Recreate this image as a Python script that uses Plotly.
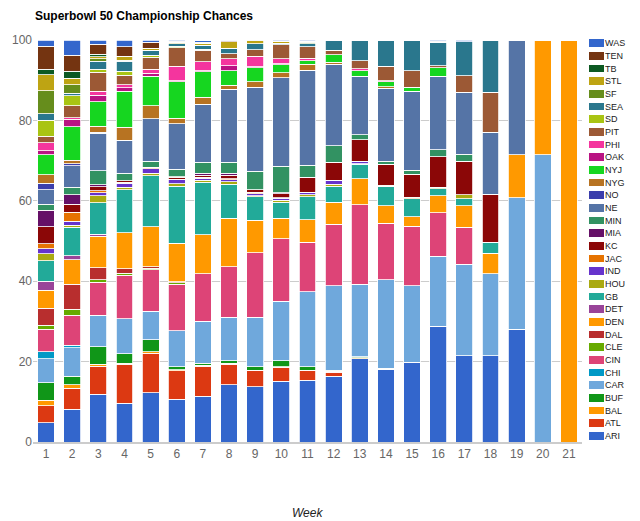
import plotly.graph_objects as go

weeks = [str(w) for w in range(1, 22)]

teams = ['ARI', 'ATL', 'BAL', 'BUF', 'CAR', 'CHI', 'CIN', 'CLE', 'DAL', 'DEN', 'DET',
         'GB', 'HOU', 'IND', 'JAC', 'KC', 'MIA', 'MIN', 'NE', 'NO', 'NYG', 'NYJ',
         'OAK', 'PHI', 'PIT', 'SD', 'SEA', 'SF', 'STL', 'TB', 'TEN', 'WAS']

colors = ['#3366cc', '#dc3912', '#ff9900', '#109618', '#6fa8dc', '#0099c6', '#dd4477',
          '#66aa00', '#b82e2e', '#ff9900', '#994499', '#22aa99', '#aaaa11', '#6633cc',
          '#e67300', '#8b0707', '#651067', '#329262', '#5574a6', '#3b3eac', '#b77322',
          '#16d620', '#b91383', '#f4359e', '#9c5935', '#a9c413', '#2a778d', '#668d1c',
          '#bea413', '#0c5922', '#743411', '#3366cc']

# chance (%) per week, weeks 1..21
ARI = [4.8, 8.1, 11.9, 9.6, 12.3, 10.6, 11.4, 14.3, 13.8, 15.1, 15.4, 16.4, 20.7, 18.1, 19.9, 28.8, 21.4, 21.4, 28.0, 0, 0]
ATL = [4.2, 5.3, 7.0, 9.7, 9.8, 7.1, 7.5, 5.1, 3.9, 3.5, 2.3, 1.0, 0, 0, 0, 0, 0, 0, 0, 0, 0]
BAL = [1.4, 0.9, 0.4, 0.3, 0.3, 0.3, 0.2, 0.2, 0.2, 0.1, 0.2, 0.2, 0.3, 0.1, 0, 0, 0, 0, 0, 0, 0]
BUF = [4.4, 2.0, 4.4, 2.3, 3.0, 0.7, 0.5, 0.6, 0.8, 1.5, 0.8, 0.3, 0.2, 0.2, 0, 0, 0, 0, 0, 0, 0]
CAR = [5.9, 7.1, 7.8, 8.8, 7.1, 9.0, 10.4, 10.8, 12.3, 14.8, 18.7, 21.0, 18.1, 21.9, 19.0, 17.4, 22.8, 20.5, 32.8, 71.4, 0]
CHI = [1.7, 0.7, 0, 0, 0, 0, 0, 0, 0, 0, 0, 0, 0, 0, 0, 0, 0, 0, 0, 0, 0]
CIN = [5.6, 7.4, 8.3, 10.8, 10.3, 11.6, 11.9, 12.6, 16.1, 15.5, 12.3, 15.3, 19.7, 14.1, 14.8, 10.8, 9.2, 0, 0, 0, 0]
CLE = [1.0, 1.5, 0.5, 0.5, 0.4, 0.3, 0, 0, 0, 0, 0, 0, 0, 0, 0, 0, 0, 0, 0, 0, 0]
DAL = [4.3, 6.2, 3.0, 1.1, 0.4, 0.3, 0, 0, 0, 0, 0, 0, 0, 0, 0, 0, 0, 0, 0, 0, 0]
DEN = [4.5, 6.1, 7.9, 9.0, 10.0, 9.5, 9.6, 12.1, 8.1, 5.2, 5.6, 5.5, 6.5, 4.4, 2.3, 4.3, 5.4, 5.0, 10.6, 28.6, 100]
DET = [2.2, 1.0, 0.5, 0, 0, 0, 0, 0, 0, 0, 0, 0, 0, 0, 0, 0, 0, 0, 0, 0, 0]
GB = [5.1, 7.1, 7.8, 10.6, 12.6, 14.2, 13.1, 8.4, 5.8, 4.0, 5.7, 3.9, 3.6, 4.8, 4.5, 1.7, 1.7, 2.8, 0, 0, 0]
HOU = [1.7, 0.5, 1.7, 0.7, 0.6, 0.6, 0.5, 0.6, 0.3, 0.4, 0.5, 0.5, 0.1, 0, 0, 0.4, 1.0, 0, 0, 0, 0]
IND = [1.3, 1.0, 0.8, 1.0, 1.2, 1.0, 0.5, 0.5, 0.5, 0.5, 0.6, 1.0, 0.6, 0, 0, 0, 0, 0, 0, 0, 0]
JAC = [1.2, 2.2, 0.5, 0.2, 0.3, 0.2, 0.3, 0.3, 0.3, 0.2, 0, 0, 0, 0.3, 0.4, 0, 0, 0, 0, 0, 0]
KC = [4.3, 2.0, 1.0, 0.4, 0, 0.4, 0.4, 0.8, 0.7, 1.0, 3.8, 4.5, 5.4, 5.2, 5.7, 7.5, 8.4, 11.9, 0, 0, 0]
MIA = [4.1, 2.4, 0.5, 0, 0, 0.2, 0.6, 0.6, 0, 0.2, 0, 0, 0, 0, 0, 0, 0, 0, 0, 0, 0]
MIN = [1.4, 1.9, 3.5, 1.8, 1.5, 1.8, 2.7, 2.7, 4.5, 6.6, 2.9, 4.1, 1.2, 0.8, 1.0, 1.8, 1.7, 0, 0, 0, 0]
NE = [3.6, 5.3, 9.3, 8.3, 10.6, 11.4, 14.4, 18.2, 20.9, 22.0, 23.7, 20.3, 14.6, 18.1, 19.7, 18.3, 15.4, 15.5, 28.6, 0, 0]
NO = [1.7, 0.5, 0.3, 0, 0, 0, 0, 0, 0, 0, 0, 0, 0, 0, 0, 0, 0, 0, 0, 0, 0]
NYG = [2.1, 0.9, 1.5, 3.2, 3.3, 1.3, 1.7, 1.0, 1.4, 1.2, 1.5, 0.5, 0, 0.4, 0, 0, 0, 0, 0, 0, 0]
NYJ = [5.0, 8.3, 6.0, 8.9, 7.3, 9.1, 6.4, 3.5, 3.5, 2.0, 0.8, 1.8, 1.3, 1.2, 1.0, 2.1, 0, 0, 0, 0, 0]
OAK = [1.0, 1.9, 1.6, 0.9, 0.7, 0.3, 0.3, 1.3, 0.3, 0.3, 0, 0, 0, 0, 0, 0, 0, 0, 0, 0, 0]
PHI = [2.0, 0.3, 1.0, 0.8, 1.0, 3.6, 2.2, 1.7, 2.5, 1.2, 0.6, 0, 0.5, 0.3, 0, 0, 0, 0, 0, 0, 0]
PIT = [1.6, 3.1, 4.8, 2.3, 3.0, 4.6, 2.8, 1.3, 1.7, 3.5, 2.9, 1.1, 2.0, 3.6, 4.0, 0.5, 4.1, 9.9, 0, 0, 0]
SD = [3.9, 2.4, 0.7, 1.0, 0.5, 0.3, 0.3, 0, 0, 0, 0, 0, 0, 0, 0, 0, 0, 0, 0, 0, 0]
SEA = [1.6, 0.6, 2.0, 2.5, 1.3, 0.7, 1.0, 1.3, 1.5, 0.4, 0.8, 2.4, 5.1, 6.4, 7.6, 5.8, 8.5, 13.0, 0, 0, 0]
SF = [5.8, 2.2, 0.6, 0.3, 0, 0, 0, 0, 0, 0, 0.3, 0.2, 0, 0, 0, 0, 0, 0, 0, 0, 0]
STL = [4.0, 1.6, 0.5, 1.0, 0.5, 0.3, 0.5, 1.7, 0.7, 0.5, 0.3, 0, 0, 0, 0, 0, 0, 0, 0, 0, 0]
TB = [1.3, 1.7, 0.7, 0, 0, 0, 0, 0, 0, 0, 0, 0, 0, 0, 0, 0, 0, 0, 0, 0, 0]
TEN = [5.8, 4.0, 2.5, 2.3, 1.5, 0.3, 0.3, 0.2, 0, 0, 0, 0, 0, 0, 0, 0.3, 0, 0, 0, 0, 0]
WAS = [1.5, 3.8, 1.0, 1.7, 0.5, 0.3, 0.3, 0.2, 0.2, 0.3, 0.3, 0, 0, 0, 0, 0.3, 0.4, 0, 0, 0, 0]

series = [ARI, ATL, BAL, BUF, CAR, CHI, CIN, CLE, DAL, DEN, DET, GB, HOU, IND, JAC, KC,
          MIA, MIN, NE, NO, NYG, NYJ, OAK, PHI, PIT, SD, SEA, SF, STL, TB, TEN, WAS]

FONT = 'Liberation Sans, Arial, sans-serif'

fig = go.Figure()
for name, vals, col in zip(teams, series, colors):
    fig.add_trace(go.Bar(x=weeks, y=vals, name=name, marker_color=col,
                         marker_line_color='white', marker_line_width=0.8,
                         showlegend=False, xaxis='x', yaxis='y'))

# legend drawn as a tiny bar chart so all 32 entries fit like the original
fig.add_trace(go.Bar(x=[1] * len(teams), y=teams, orientation='h', width=0.6,
                     marker_color=colors, marker_line_width=0,
                     showlegend=False, hoverinfo='y', xaxis='x2', yaxis='y2'))

fig.update_layout(
    width=640, height=521,
    margin=dict(l=0, r=0, t=0, b=0, autoexpand=False),
    barmode='stack', bargap=0.36,
    plot_bgcolor='white', paper_bgcolor='white',
    font=dict(family=FONT, size=12, color='#444'),
    xaxis=dict(domain=[33 / 640, 582 / 640], type='category', range=[-0.5, 20.5],
               automargin=False, showgrid=False, showline=True, linecolor='#cccccc',
               linewidth=2, ticks='', tickfont=dict(size=12, color='#666')),
    yaxis=dict(domain=[(521 - 442) / 521, (521 - 40) / 521], range=[0, 100],
               automargin=False, tickvals=[0, 20, 40, 60, 80, 100],
               gridcolor='#cccccc', gridwidth=1, zeroline=False, showline=False,
               ticks='', tickfont=dict(size=12, color='#666')),
    xaxis2=dict(domain=[589 / 640, 604 / 640], range=[0, 1], anchor='y2',
                automargin=False, visible=False, fixedrange=True),
    yaxis2=dict(domain=[(521 - 442.3) / 521, (521 - 36.7) / 521], anchor='x2',
                automargin=False, type='category', range=[-0.5, 31.5], side='right',
                showgrid=False, showline=False, zeroline=False, ticks='',
                tickfont=dict(size=9, color='#222')),
    annotations=[
        dict(text='<b>Superbowl 50 Championship Chances</b>', xref='paper', yref='paper',
             x=0, xshift=33, y=(521 - 16) / 521, xanchor='left', yanchor='middle',
             showarrow=False, font=dict(family=FONT, size=12, color='#000')),
        dict(text='<i>Week</i>', xref='paper', yref='paper',
             x=(33 + 582) / 2 / 640, y=(521 - 513) / 521, xanchor='center', yanchor='middle',
             showarrow=False, font=dict(family=FONT, size=12, color='#222')),
    ],
)

# page has a default 8px body margin; drop it so the 640x521 figure fills the window
fig.write_html("out.html", config={'displayModeBar': False},
               post_script="document.body.style.margin = '0';")
